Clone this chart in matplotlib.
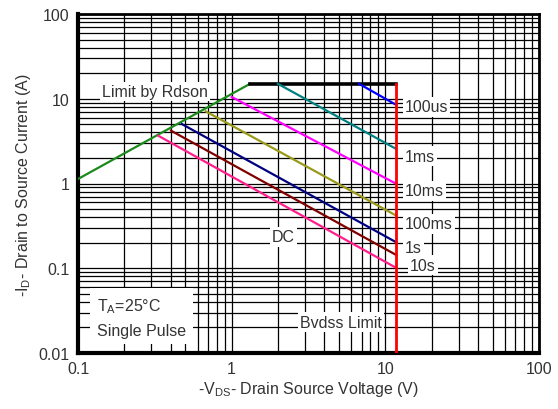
import numpy as np
import matplotlib
matplotlib.use("Agg")
import matplotlib.pyplot as plt
from matplotlib.ticker import FixedLocator, FixedFormatter, LogLocator

plt.rcParams['font.family'] = ['Liberation Sans', 'DejaVu Sans']
plt.rcParams['mathtext.default'] = 'regular'

# SOA curves, (Vds, Id) end points
rdson_v = [0.1, 1.315]
rdson_i = [1.13, 15.0]
pkg_v = [1.315, 11.8]
pkg_i = [15.0, 15.0]
bvdss_v = [11.8, 11.8]
bvdss_i = [15.0, 0.01]

pulse_names = ["100us", "1ms", "10ms", "100ms", "1s", "DC", "10s"]
pulse_v = [[6.75, 11.8], [2.0, 11.8], [1.0, 11.8], [0.678, 11.8],
           [0.473, 11.8], [0.403, 11.8], [0.333, 11.8]]
pulse_i = [[15.0, 8.44], [15.0, 2.55], [10.5, 0.99], [7.1, 0.417],
           [5.04, 0.202], [4.2, 0.143], [3.66, 0.1007]]
pulse_colors = ["#0000ff", "#008080", "#ff00ff", "#9a9a1a",
                "#000080", "#800000", "#ff1e8c"]

xticks = [0.1, 1, 10, 100]
xtick_labels = ["0.1", "1", "10", "100"]
yticks = [0.01, 0.1, 1, 10, 100]
ytick_labels = ["0.01", "0.1", "1", "10", "100"]

fig = plt.figure(figsize=(5.58, 4.10), dpi=100)
ax = fig.add_axes([0.1398, 0.1366, 0.8262, 0.8268])
ax.set_xscale("log")
ax.set_yscale("log")
ax.set_xlim(0.1, 100)
ax.set_ylim(0.01, 100)

ax.xaxis.set_major_locator(FixedLocator(xticks))
ax.xaxis.set_major_formatter(FixedFormatter(xtick_labels))
ax.yaxis.set_major_locator(FixedLocator(yticks))
ax.yaxis.set_major_formatter(FixedFormatter(ytick_labels))
ax.xaxis.set_minor_locator(LogLocator(base=10, subs=np.arange(2, 10)))
ax.yaxis.set_minor_locator(LogLocator(base=10, subs=np.arange(2, 10)))
ax.xaxis.set_minor_formatter(plt.NullFormatter())
ax.yaxis.set_minor_formatter(plt.NullFormatter())
ax.tick_params(which="both", length=0, labelsize=11.5, pad=6, colors="#333333")
ax.grid(which="both", color="black", linewidth=0.9)
ax.set_axisbelow(True)

for side, sp in ax.spines.items():
    sp.set_linewidth(3 if side in ("left", "bottom") else 2)

ax.plot(rdson_v, rdson_i, color="#1b8a1b", lw=1.6, zorder=3)
ax.plot(pkg_v, pkg_i, color="black", lw=2.6, zorder=3)
for v, i, c in zip(pulse_v, pulse_i, pulse_colors):
    ax.plot(v, i, color=c, lw=1.6, zorder=3)
ax.plot(bvdss_v, bvdss_i, color="#ff0000", lw=2.0, zorder=4)

box = dict(facecolor="white", edgecolor="none", pad=1.5)
tkw = dict(fontsize=11.5, color="#333333", bbox=box, zorder=5)
ax.text(0.317, 12.3, "Limit by Rdson", ha="center", va="center", **tkw)
ax.text(13.4, 8.0, "100us", ha="left", va="center", **tkw)
ax.text(13.4, 2.11, "1ms", ha="left", va="center", **tkw)
ax.text(13.4, 0.817, "10ms", ha="left", va="center", **tkw)
ax.text(13.4, 0.333, "100ms", ha="left", va="center", **tkw)
ax.text(13.4, 0.178, "1s", ha="left", va="center", **tkw)
ax.text(14.5, 0.109, "10s", ha="left", va="center", **tkw)
ax.text(2.16, 0.234, "DC", ha="center", va="center", **tkw)
ax.text(5.14, 0.0232, "Bvdss Limit", ha="center", va="center", **tkw)
ax.text(0.1324, 0.0265, "T$_A$=25°C\nSingle Pulse", ha="left", va="center",
        linespacing=1.6, fontsize=11.5, color="#333333",
        bbox=dict(facecolor="white", edgecolor="none", pad=5), zorder=5)

ax.set_xlabel("-V$_{DS}$- Drain Source Voltage (V)", fontsize=11.5,
              color="#333333", labelpad=2)
ax.set_ylabel("-I$_D$- Drain to Source Current (A)", fontsize=11.5,
              color="#333333", labelpad=4)

fig.savefig("out.png", dpi=100)
